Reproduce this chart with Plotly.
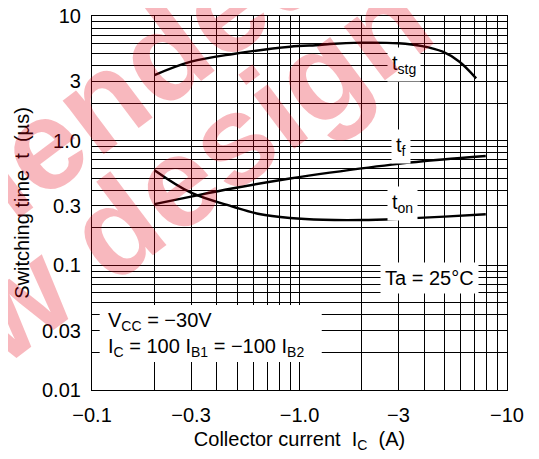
import math
import plotly.graph_objects as go

# ---- data (collector current magnitude in A, switching time in us) ----
ic_stg = [0.2, 0.3, 0.48, 0.9, 1.25, 1.4, 2.0, 3.0, 3.9, 4.9, 5.9, 7.1]
t_stg = [3.36, 4.30, 4.96, 5.67, 5.85, 5.96, 6.11, 6.04, 5.74, 5.17, 4.30, 3.16]

ic_f = [0.2, 0.3, 0.48, 0.9, 1.4, 3.0, 4.9, 7.9]
t_f = [0.31, 0.356, 0.415, 0.497, 0.554, 0.652, 0.706, 0.753]

ic_on = [0.2, 0.3, 0.48, 0.64, 0.9, 1.3, 2.0, 3.0, 5.0, 7.9]
t_on = [0.58, 0.383, 0.295, 0.258, 0.240, 0.232, 0.231, 0.236, 0.246, 0.257]

x_tickvals = [0.1, 0.3, 1, 3, 10]
x_ticktext = ["\u22120.1", "\u22120.3", "\u22121.0", "\u22123", "\u221210"]
y_tickvals = [0.01, 0.03, 0.1, 0.3, 1, 3, 10]
y_ticktext = ["0.01", "0.03", "0.1", "0.3", "1.0", "3", "10"]

x_minor = [0.2, 0.3, 0.4, 0.5, 0.6, 0.7, 0.8, 0.9, 2, 3, 4, 5, 6, 7, 8, 9]
y_minor = [0.02, 0.03, 0.04, 0.05, 0.06, 0.07, 0.08, 0.09,
           0.2, 0.3, 0.4, 0.5, 0.6, 0.7, 0.8, 0.9,
           2, 3, 4, 5, 6, 7, 8, 9]

FONT = "Liberation Sans, Arial, Helvetica, sans-serif"
lg = math.log10

OFF = 8  # default page body margin
W, H = 531, 451
L, R, T, B = 84, 32, 8, 69
pw, ph = W - L - R, H - T - B


def px(x, y):
    """page pixel -> paper coordinates"""
    return (x - OFF - L) / pw, 1 - (y - OFF - T) / ph


fig = go.Figure()
line = dict(color="black", width=2.4, shape="spline", smoothing=1.0)
for xs, ys, nm in [(ic_stg, t_stg, "tstg"), (ic_f, t_f, "tf"), (ic_on, t_on, "ton")]:
    fig.add_trace(go.Scatter(x=xs, y=ys, mode="lines", line=line, name=nm,
                             showlegend=False, hoverinfo="skip"))

# white box behind the conditions text
fig.add_shape(type="rect", xref="x", yref="y", x0=0.1089, x1=1.28, y0=0.0168, y1=0.0481,
              fillcolor="white", line=dict(width=0), layer="above")

ann = []
lab_font = dict(family=FONT, size=20, color="black")
for txt, xx, yy in [("t<sub>stg</sub>", 3.2, 4.12), ("t<sub>f</sub>", 3.07, 0.89),
                    ("t<sub>on</sub>", 3.15, 0.316), ("Ta = 25\u00b0C", 4.24, 0.0792)]:
    ann.append(dict(x=lg(xx), y=lg(yy), xref="x", yref="y", text=txt, showarrow=False,
                    font=lab_font, bgcolor="white", borderpad=4, xanchor="center", yanchor="middle"))
ann.append(dict(x=lg(0.1163), y=lg(0.0353), xref="x", yref="y", text="V<sub>CC</sub> = \u221230V",
                showarrow=False, font=lab_font, xanchor="left", yanchor="middle"))
ann.append(dict(x=lg(0.1163), y=lg(0.0218), xref="x", yref="y",
                text="I<sub>C</sub> = 100 I<sub>B1</sub> = \u2212100 I<sub>B2</sub>",
                showarrow=False, font=lab_font, xanchor="left", yanchor="middle"))
# watermark
wm_font = dict(family=FONT, size=128, color="rgba(230,0,20,0.28)")
wx, wy = px(52, 275)
ann.append(dict(x=wx, y=wy, xref="paper", yref="paper", text="<b>for new design</b>", showarrow=False,
                textangle=-37, font=wm_font, xanchor="center", yanchor="middle"))
wx, wy = px(-135, 278)
ann.append(dict(x=wx, y=wy, xref="paper", yref="paper", text="<b>Not recommended</b>", showarrow=False,
                textangle=-37, font=wm_font, xanchor="center", yanchor="middle"))

fig.update_layout(
    width=W, height=H,
    margin=dict(l=L, r=R, t=T, b=B, autoexpand=False),
    paper_bgcolor="white", plot_bgcolor="white",
    font=dict(family=FONT, size=20, color="black"),
    annotations=ann,
    xaxis=dict(type="log", range=[-1, 1], tickvals=x_tickvals, ticktext=x_ticktext,
               showgrid=True, gridcolor="black", gridwidth=1,
               minor=dict(tickmode="array", tickvals=x_minor, showgrid=True,
                          gridcolor="black", gridwidth=1, ticks=""),
               showline=True, linecolor="black", linewidth=1.2, mirror=True,
               ticks="", ticklabelstandoff=7, zeroline=False, automargin=False,
               ticklabeloverflow="allow",
               tickfont=dict(size=20),
               title=dict(text="Collector current  I<sub>C</sub>  (A)", standoff=6,
                          font=dict(size=20))),
    yaxis=dict(type="log", range=[-2, 1], tickvals=y_tickvals, ticktext=y_ticktext,
               showgrid=True, gridcolor="black", gridwidth=1,
               minor=dict(tickmode="array", tickvals=y_minor, showgrid=True,
                          gridcolor="black", gridwidth=1, ticks=""),
               showline=True, linecolor="black", linewidth=1.2, mirror=True,
               ticks="", ticklabelstandoff=6, zeroline=False, automargin=False,
               ticklabeloverflow="allow",
               tickfont=dict(size=20),
               title=dict(text="Switching time  t  (\u00b5s)", standoff=6,
                          font=dict(size=20))),
)

fig.write_html("out.html")
